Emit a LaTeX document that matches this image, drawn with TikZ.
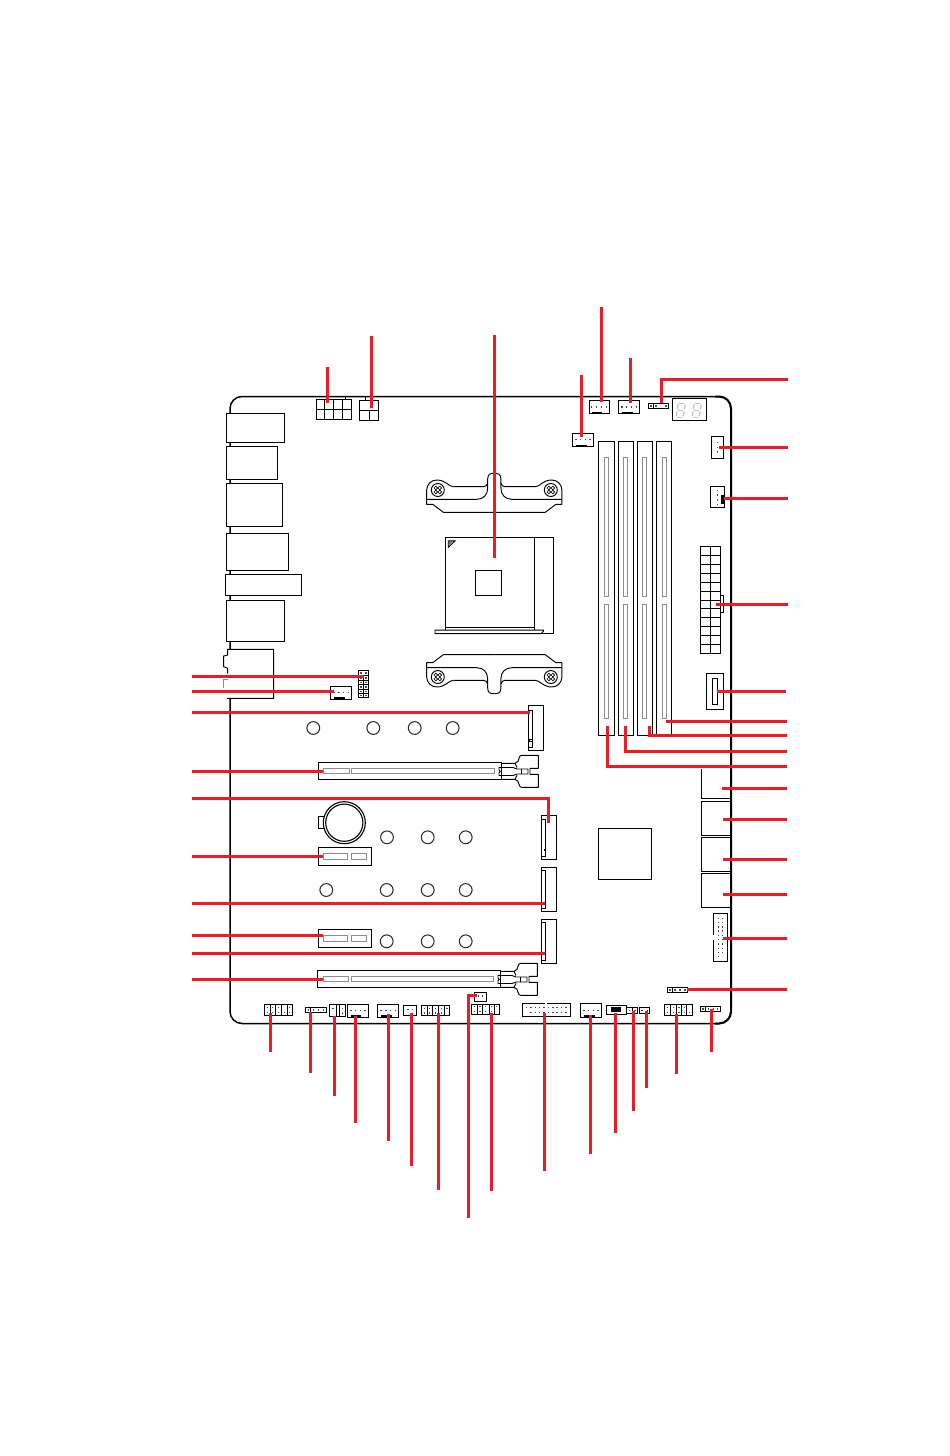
\documentclass[tikz,border=0pt]{standalone}
\definecolor{leadred}{HTML}{ED1C24}
\definecolor{pingrey}{HTML}{4A4A4A}
\definecolor{slotgrey}{HTML}{8E8E8E}
\definecolor{seggrey}{HTML}{C4C4C4}
\tikzset{
  part/.style={draw=black,line width=.95pt,fill=white},
  thin part/.style={draw=black,line width=.95pt},
  boardline/.style={draw=black,line width=1.5pt},
  slot/.style={draw=slotgrey,line width=1pt,fill=white},
  hole/.style={draw=black!85,line width=1pt,fill=white},
  leader/.style={draw=leadred,line width=3pt,line join=miter},
  seg/.style={draw=seggrey,line width=1.3pt},
}
\newcommand{\rbox}[4]{\draw[part] (#1,#2) rectangle (#3,#4);}
\newcommand{\vdiv}[3]{\foreach \vx in {#1}{\draw[thin part] (\vx,#2) -- (\vx,#3);}}
\newcommand{\pinrow}[2]{\foreach \px in {#2}{\fill[pingrey] (\px-.7,#1-.7) rectangle (\px+.7,#1+.7);}}
\newcommand{\blackbar}[4]{\fill[black] (#1,#2) rectangle (#3,#4);}
\newcommand{\halfbracket}{%
  \draw[thin part,line join=round] (-41,-3.3) .. controls (-46,-3.3) and (-48,-10) .. (-57.6,-10) .. controls (-63,-10) and (-67.6,-5.5) .. (-67.6,0) -- (-67.6,14.3) -- (-61.6,14.3) -- (-51,22.3) -- (0,22.3);
  \draw[thin part] (0,-16.7) .. controls (-4,-16.7) and (-6.6,-16) .. (-6.6,-11) -- (-6.6,-2) .. controls (-6.6,5) and (-11,9.3) .. (-17.6,9.3) -- (-67.6,9.3);
  \draw[thin part] (-6.6,-7) .. controls (-7,-4.5) and (-9,-3.3) .. (-11,-3.3) -- (-41,-3.3);
  \draw[thin part] (-56.5,0) circle (6.5);
  \foreach \sx/\sy in {-2/-2,2/-2,-2/2,2/2}{\draw[line width=.6pt] (-56.5+\sx,\sy) circle (1.8);}
}
\newcommand{\latch}[2]{%
  \begin{scope}[shift={(#1,#2)}]
  \draw[thin part,line join=round] (501.7,763.3) -- (515,763.3) .. controls (518,763.3) and (518.5,760) .. (519,758.3) .. controls (519.5,756) and (520.5,755.3) .. (521.7,755.3) -- (538.3,755.3) -- (538.3,768.3) -- (530,768.3) -- (530,774.3) -- (538.3,774.3) -- (538.3,787.3) -- (521.7,787.3) .. controls (520.5,787.3) and (519.5,786.6) .. (519,784.3) .. controls (518.5,782.6) and (518,779.3) .. (515,779.3) -- (501.7,779.3);
  \draw[thin part] (501.7,767.5) -- (513,767.5) -- (517,769) -- (528,769) -- (528,774) -- (517,774) -- (513,775.5) -- (501.7,775.5);
  \draw[thin part] (501.7,767.5) -- (499,767.5) -- (499,770) -- (500.2,771.4) -- (499,773) -- (499,775.5) -- (501.7,775.5);
  \draw[thin part] (521,769) -- (521,774);
  \draw[thin part] (515,763.3) -- (517,767.5);
  \draw[thin part] (515,779.3) -- (517,775.3);
  \end{scope}
}
\newcommand{\segdigit}[1]{%
  \begin{scope}[shift={(#1,417.3)},xslant=.16]
  \draw[seg] (1.5,-14) -- (6.5,-14);
  \draw[seg] (1.5,-7) -- (6.5,-7);
  \draw[seg] (1.5,0) -- (6.5,0);
  \draw[seg] (.5,-13) -- (.5,-8);
  \draw[seg] (7.5,-13) -- (7.5,-8);
  \draw[seg] (.5,-6) -- (.5,-1);
  \draw[seg] (7.5,-6) -- (7.5,-1);
  \end{scope}
}
\begin{document}
\begin{tikzpicture}[x=1pt,y=-1pt]
\useasboundingbox (0,0) rectangle (950,1456);
\fill[white] (0,0) rectangle (950,1456);
% board outline
\draw[boardline,rounded corners=12pt] (230,396.5) rectangle (731,1023.5);
\draw[draw=black,line width=2pt,rounded corners=12pt] (715,396.5) -- (731,396.5) -- (731,1023.5) -- (715,1023.5);
% rear I/O
\rbox{226.3}{413.3}{284.3}{442.3}
\rbox{226.3}{446.3}{277.4}{479.3}
\rbox{226.3}{483.3}{282.4}{526.3}
\rbox{226.3}{533.3}{288.4}{570.3}
\rbox{225.3}{574.3}{301.7}{595.3}
\rbox{226.3}{600.3}{284.3}{641.3}
% audio block
\fill[white] (223,648.5) rectangle (274,699);
\draw[thin part] (227.7,673.5) -- (227.7,668.3) -- (223.7,666.7) -- (223.7,656) -- (227.7,655) -- (227.7,649.3) -- (273.7,649.3) -- (273.7,698.3) -- (227,698.3);
\draw[draw=black!45,line width=.9pt] (227.7,679.3) -- (223.7,679.3) -- (223.7,688);
% power connectors
\draw[thin part] (345.7,397) -- (345.7,399.3);
\rbox{316.3}{399.3}{351.7}{419.7}
\draw[thin part] (316.3,409.7) -- (351.7,409.7);
\vdiv{324.7,333.3,342.3}{399.3}{419.7}
\draw[thin part] (365,400.3) -- (365,397);
\rbox{359.3}{400.3}{378.7}{420.7}
\draw[thin part] (359.3,410.3) -- (378.7,410.3);
\vdiv{369.3}{410.3}{420.7}
% CPU retention
\foreach \bx/\by/\bs in {494.3/490/1,494.3/677/-1}{
  \begin{scope}[shift={(\bx,\by)},yscale=\bs]
  \halfbracket
  \begin{scope}[xscale=-1]\halfbracket\end{scope}
  \end{scope}
}
% socket
\rbox{445.3}{537.3}{553.3}{633.3}
\draw[thin part] (445.3,627.3) -- (534.7,627.3);
\draw[thin part] (534.7,537.3) -- (534.7,633.3);
\rbox{475.3}{570.3}{501.7}{595.3}
\draw[line width=.9pt] (448.3,547.3) -- (448.3,540.9) -- (455,540.9) -- cycle;
\fill[black!60] (448.3,540.9) -- (453,540.9) -- (448.3,546) -- cycle;
\draw[part] (435,630.2) -- (543.3,630.2) -- (543.3,631.5) -- (541,633.7) -- (435,633.7) -- cycle;
% fan headers top
\rbox{589.3}{400.3}{609.7}{413.3}
\pinrow{407}{591.7,596.7,601.7,606.7}
\blackbar{592.3}{411.6}{602.3}{413.5}
\rbox{618.3}{400.3}{639.7}{413.3}
\pinrow{407}{622,626.7,631.3,636.7}
\blackbar{622}{411.6}{632.7}{413.5}
\rbox{572.3}{433.3}{593.7}{446.7}
\pinrow{439.7}{576,580.7,585.3,590}
\blackbar{576}{444.6}{586.7}{446.9}
\rbox{648.3}{403.3}{668.7}{408.7}
\vdiv{653.3}{403.3}{408.7}
\pinrow{406}{651,656,666}
% 7-segment
\rbox{672.3}{398.3}{706.7}{420.3}
\segdigit{675.6}
\segdigit{691.6}
% right connectors
\rbox{711}{436.3}{723.7}{458.7}
\pinrow{442.7}{717.3}\pinrow{447.3}{717.3}\pinrow{452}{717.3}
\rbox{710.3}{486.3}{724.7}{507.3}
\pinrow{490.7}{717.3}\pinrow{495}{717.3}\pinrow{500}{717.3}\pinrow{504.7}{717.3}
\blackbar{721.3}{495}{724.7}{504}
% ATX
\draw[part] (720.7,595) -- (723.7,595) -- (723.7,612.3) -- (720.7,612.3);
\rbox{700.3}{546.3}{720.7}{653.7}
\vdiv{710.7}{546.3}{653.7}
\foreach \ry in {555.25,564.2,573.15,582.1,591.05,600,608.95,617.9,626.85,635.8,644.75}{\draw[thin part] (700.3,\ry) -- (720.7,\ry);}
% USB-C style connector
\rbox{706.3}{673.3}{723.7}{709.3}
\rbox{712.3}{678.3}{717.3}{704.7}
% DIMM slots
\foreach \da/\db/\ga/\gb in {598.3/614.3/604.3/608.7,618.3/633.7/623.3/627.7,637.3/652.7/642.3/646.7,656.3/671.7/662.3/666.7}{
  \draw[part] (\da,441.3) rectangle (\db,735);
  \draw[slot] (\ga,457.3) rectangle (\gb,596.7);
  \draw[slot] (\ga,604.3) rectangle (\gb,718.3);
}
% right-edge blocks
\draw[part] (701.3,769) -- (701.3,798.7) -- (730.7,798.7);
\draw[thin part] (701.3,801.3) rectangle (730.7,835.7);
\draw[thin part] (701.3,837.3) rectangle (730.7,871.7);
\draw[thin part] (701.3,873.3) rectangle (730.7,907.3);
\draw[draw=black,line width=2pt] (731,760) -- (731,1000);
% chipset
\rbox{598.3}{828.3}{651.7}{879.7}
% USB header right
\rbox{713.3}{913.3}{727.7}{961.7}
\fill[white] (712.5,935) rectangle (714.2,940);
\foreach \py in {918.3,922.6,926.9,931.1,935.4,939.7,943.9,948.2,952.5}{\pinrow{\py}{718.3,722.7}}
\pinrow{956.5}{718.3}
% small header right
\rbox{667.3}{987.3}{687.7}{992.3}
\vdiv{672.3}{987.3}{992.3}
\pinrow{989.8}{670,675,680,685}
% mid headers
\rbox{358.3}{670.3}{368.7}{697.3}
\vdiv{363.5}{675.5}{697.3}
\foreach \ry in {675.5,680,684.5,689,693.5}{\draw[thin part] (358.3,\ry) -- (368.7,\ry);}
\foreach \py in {673,678,682.5,687,691.5,695.5}{\pinrow{\py}{361,366}}
\rbox{330.3}{686.3}{351.7}{699.7}
\pinrow{692.7}{334,339,343.7,348.3}
\blackbar{334}{697.4}{345}{699.7}
% M.2 connectors
\rbox{528.3}{705.3}{543.7}{750.7}
\draw[thin part] (528.3,710) -- (532.3,710) -- (532.3,747) -- (528.3,747);
\draw[thin part] (529.8,739.5) rectangle (532.3,741.5);
\rbox{541}{815.3}{556.7}{859.3}
\draw[thin part] (541,819.3) -- (545,819.3) -- (545,856.7) -- (541,856.7);
\fill[black] (543.7,848.5) rectangle (545,850.5);
\rbox{541}{867.3}{556.7}{911.3}
\draw[thin part] (541,870.7) -- (545.7,870.7) -- (545.7,908.7) -- (541,908.7);
\rbox{541}{919.3}{556.7}{963.3}
\draw[thin part] (541,922) -- (545.7,922) -- (545.7,960.7) -- (541,960.7);
% standoff holes
\foreach \hx/\hy in {313.3/728,373.3/728,414.7/728,452.7/728,387/837.3,427.7/837.3,465.7/837.3,326.3/890,386.7/890,427.7/890,465.7/890,386.7/941.3,427.7/941.3,465.7/941.3}{
  \draw[hole] (\hx,\hy) circle (6.4);
}
% battery
\draw[thin part] (323.5,816.7) -- (318.6,816.7) -- (318.6,828.5) -- (323.5,828.5);
\draw[part,line width=1.1pt] (344.3,822.7) circle (21);
\draw[thin part,line width=1.1pt] (344.3,822.7) circle (18.6);
% PCIe slots
\rbox{318.3}{762.3}{501.7}{779.3}
\draw[slot] (323.3,768.3) rectangle (349.3,773.7);
\draw[slot] (351.3,768.3) rectangle (494.7,773.7);
\latch{0}{0}
\rbox{318.3}{847.3}{371.7}{865.3}
\draw[slot] (323.3,853.3) rectangle (347.3,859.3);
\draw[slot] (351.3,853.3) rectangle (366.7,859.3);
\rbox{318.3}{929.3}{371.7}{947.3}
\draw[slot] (323.3,935.7) rectangle (347.3,941.3);
\draw[slot] (351.3,935.7) rectangle (366.7,941.3);
\rbox{317.3}{970.3}{500.7}{987.3}
\draw[slot] (323.3,976.3) rectangle (348.7,981.7);
\draw[slot] (351.3,976.3) rectangle (493.7,981.7);
\latch{-1}{208}
% bottom-edge headers
\rbox{264.3}{1004.3}{292.7}{1015.7}
\vdiv{270.7,275,281.7,287}{1004.3}{1015.7}
\pinrow{1007.7}{267.7,272.7,278.7,289.7}
\pinrow{1012.3}{267.7,272.7,278.7,284.7,289.7}
\rbox{305.3}{1007.3}{326}{1012.7}
\vdiv{310.7}{1007.3}{1012.7}
\pinrow{1010}{308.3,313.3,318.3,323.3}
\rbox{329.3}{1004.3}{345.7}{1016.3}
\vdiv{336,339.3}{1004.3}{1016.3}
\pinrow{1008.3}{333,342.5}
\pinrow{1013}{342.5}
\rbox{347.3}{1004.3}{368.7}{1017.3}
\pinrow{1010.7}{351,355.7,360.3,365}
\blackbar{351}{1015.3}{361}{1017.3}
\rbox{377.3}{1004.3}{398.7}{1017.3}
\pinrow{1010.7}{381,386,390.7,395.3}
\blackbar{381}{1015.3}{391.5}{1017.3}
\rbox{403.3}{1005.3}{416.7}{1015.7}
\pinrow{1009.7}{408,412.7}
\rbox{421.3}{1005.3}{449.3}{1015.7}
\vdiv{427.7,432.3,438.3,444}{1005.3}{1015.7}
\pinrow{1008.3}{424.3,429.7,435.3,441.3,447}
\pinrow{1013}{424.3,429.7,435.3,441.3}
\rbox{474.3}{992.3}{486.7}{1001.7}
\pinrow{996}{478.3,482.7}
\rbox{471.3}{1004.3}{499.7}{1014.3}
\vdiv{477.7,482.3,489,494}{1004.3}{1014.3}
\pinrow{1006.7}{474.7,480,485.7,491.3,496.7}
\pinrow{1011.7}{474.7,480,485.7,491.3}
\rbox{522.3}{1003.3}{570}{1016.7}
\fill[white] (544.8,1002.5) rectangle (546.6,1004.1);
\pinrow{1007.7}{526.7,531,535.4,539.7,544.1,548.4,552.8,557.1,561.5,565.8}
\pinrow{1012.3}{531,535.4,539.7,544.1,548.4,552.8,557.1,561.5,565.8}
\rbox{580.3}{1003.3}{601.7}{1017.3}
\pinrow{1010.7}{584,588.7,593.3,598}
\blackbar{584}{1015}{595}{1017.3}
\rbox{606.3}{1005.7}{626.7}{1014.3}
\blackbar{611}{1007.3}{621}{1012.3}
\rbox{626.7}{1007.7}{637.7}{1013}
\vdiv{632}{1007.7}{1013}
\pinrow{1010.3}{629.3,635}
\rbox{639.3}{1007.7}{649.7}{1013}
\pinrow{1010.3}{642,647.3}
\rbox{664.3}{1004.3}{692.3}{1015.7}
\vdiv{670.7,676,681.7,686.7}{1004.3}{1015.7}
\pinrow{1007.7}{667.7,673.3,679,684.3}
\pinrow{1012.3}{667.7,673.3,679,684.3,689.7}
\rbox{700.3}{1006.3}{720.7}{1011.7}
\vdiv{705.7}{1006.3}{1011.7}
\pinrow{1009}{703,708.3,713.3,717.7}
% red leaders: horizontals from the left
\foreach \nm/\ly/\lx in {a/676.3/364,b/691.3/334,c/712.3/530,d/771.3/323.3,f/856.7/323.3,g/903.3/545,h/935.3/323.3,i/953.3/545,j/979.3/323.3}{
  \coordinate (l\nm s) at (191.5,\ly);
  \coordinate (l\nm e) at (\lx,\ly);
  \draw[leader] (l\nm s) -- (l\nm e);
}
\coordinate (les) at (191.5,798.3);
\coordinate (lec) at (548.3,798.3);
\coordinate (lee) at (548.3,822.7);
\draw[leader] (les) -- (lec) -- (lee);
% red leaders: verticals from the top
\foreach \nm/\lx/\ya/\yb in {a/327.3/367.3/403.3,b/371.7/336/408.3,c/494.3/335/558.3,d/601.3/307/401.7,e/630.3/358/403.3,f/581.3/375/436.7}{
  \coordinate (t\nm s) at (\lx,\ya);
  \coordinate (t\nm e) at (\lx,\yb);
  \draw[leader] (t\nm s) -- (t\nm e);
}
% red leaders: from the right
\coordinate (rgs) at (787.5,379.3);
\coordinate (rgc) at (661.3,379.3);
\coordinate (rge) at (661.3,403.3);
\draw[leader] (rgs) -- (rgc) -- (rge);
\foreach \nm/\ly/\lx/\lz in {a/447.3/719/787.5,b/498.3/724.3/787.5,c/604.3/716/787.5,d/691.3/717.3/786,e/721.3/666/787,f/788.3/722.3/787,g/819.3/723/787,h/859.3/723/787,i/894.3/723/787,j/938.3/723.3/787,k/989.3/686.7/787}{
  \coordinate (r\nm s) at (\lz,\ly);
  \coordinate (r\nm e) at (\lx,\ly);
  \draw[leader] (r\nm s) -- (r\nm e);
}
\foreach \nm/\ly/\lx in {m/735.3/649.3,n/751.3/625.3,o/766.3/607.3}{
  \coordinate (r\nm s) at (787,\ly);
  \coordinate (r\nm c) at (\lx,\ly);
  \coordinate (r\nm e) at (\lx,726);
  \draw[leader] (r\nm s) -- (r\nm c) -- (r\nm e);
}
% red leaders: verticals from the bottom
\foreach \nm/\lx/\ya/\yb in {a/270.3/1052/1012.7,b/310.3/1073/1011.7,c/334.3/1096/1016,d/355.3/1123/1016,e/388.3/1141/1014.3,f/411.3/1166/1013.3,g/438.3/1190/1012.7,i/491.3/1191/1012.7,j/544.3/1171/1013.3,k/590.3/1154/1015,l/615.3/1133/1012.7,m/633.3/1111/1011,n/646.3/1088/1011,o/676.3/1074/1014,p/711.3/1052/1009}{
  \coordinate (b\nm s) at (\lx,\ya);
  \coordinate (b\nm e) at (\lx,\yb);
  \draw[leader] (b\nm s) -- (b\nm e);
}
\coordinate (bhs) at (468.3,1218);
\coordinate (bhc) at (468.3,995);
\coordinate (bhe) at (476.7,995);
\draw[leader] (bhs) -- (bhc) -- (bhe);
\end{tikzpicture}
\end{document}
